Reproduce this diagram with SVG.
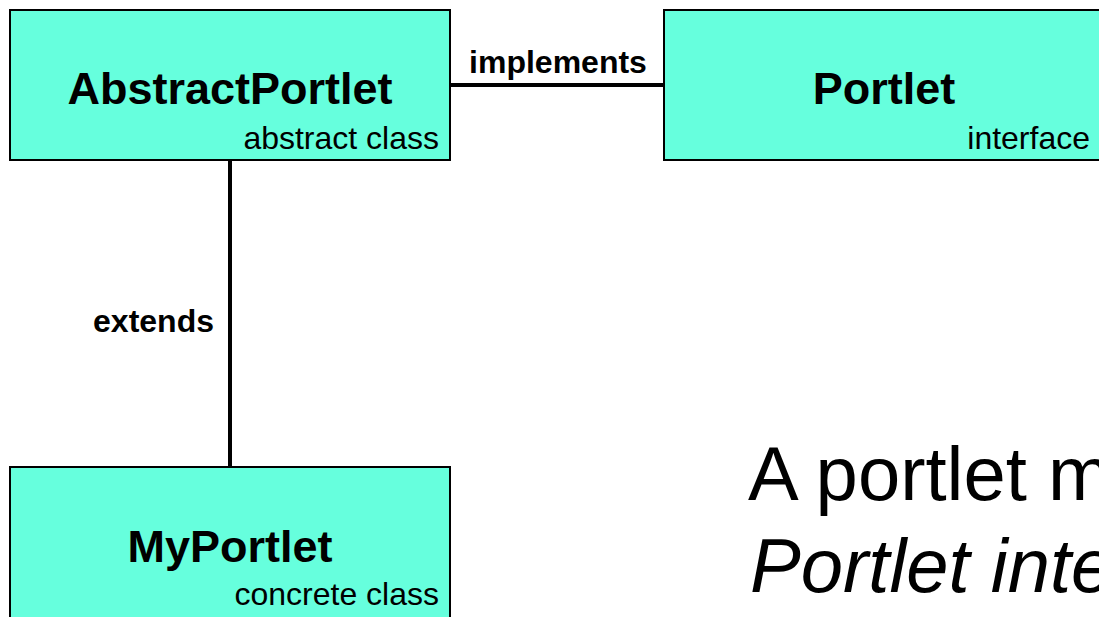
<svg xmlns="http://www.w3.org/2000/svg" width="1099" height="617" viewBox="0 0 1099 617">
<style>
.box{fill:#66ffdd;stroke:#000;stroke-width:2}
.title{font-family:"Liberation Sans",Arial,sans-serif;font-weight:bold;font-size:45px;text-anchor:middle;fill:#000}
.sub{font-family:"Liberation Sans",Arial,sans-serif;font-size:32px;text-anchor:end;fill:#000}
.lbl{font-family:"Liberation Sans",Arial,sans-serif;font-weight:bold;font-size:32px;fill:#000}
.conn{stroke:#000;stroke-width:4;fill:none}
.big{font-family:"Liberation Sans",Arial,sans-serif;font-size:76px;fill:#000}
</style>
<rect width="1099" height="617" fill="#fff"/>
<g id="connectors">
<line class="conn" x1="450" y1="85" x2="663" y2="85"/>
<line class="conn" x1="230" y1="160" x2="230" y2="467"/>
<text class="lbl" x="558" y="73" text-anchor="middle">implements</text>
<text class="lbl" x="214" y="332" text-anchor="end">extends</text>
</g>
<g id="node-abstractportlet">
<rect class="box" x="10" y="10" width="440" height="150"/>
<text class="title" x="230" y="104">AbstractPortlet</text>
<text class="sub" x="439" y="149">abstract class</text>
</g>
<g id="node-portlet">
<rect class="box" x="664" y="10" width="440" height="150"/>
<text class="title" x="884" y="104">Portlet</text>
<text class="sub" x="1090" y="149">interface</text>
</g>
<g id="node-myportlet">
<rect class="box" x="10" y="467" width="440" height="160"/>
<text class="title" x="230" y="562">MyPortlet</text>
<text class="sub" x="439" y="605">concrete class</text>
</g>
<g id="caption">
<text class="big" x="748" y="500">A portlet m</text>
<text class="big" x="750" y="592" font-style="italic">Portlet inte</text>
</g>
</svg>
